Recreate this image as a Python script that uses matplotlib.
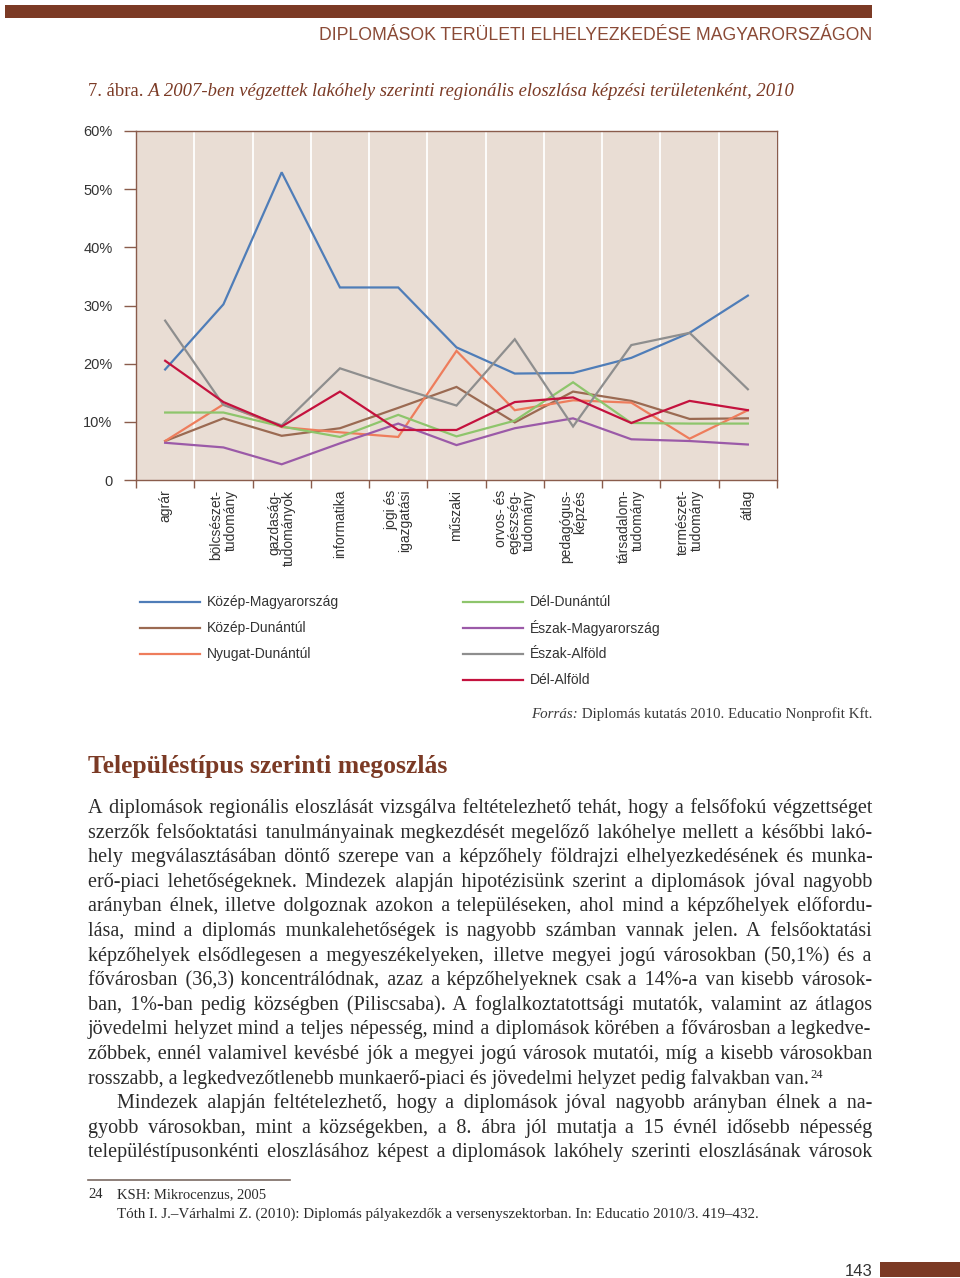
import matplotlib
matplotlib.use("Agg")
import matplotlib.pyplot as plt
from matplotlib.lines import Line2D
from matplotlib.patches import Rectangle
import numpy as np

W, H = 960, 1278
BROWN = "#7b3a25"
SPINE = "#8a5c4c"
TEXT = "#2b2b2b"
HAIR = "\u200a"

# chart data (percent)
categories = ["agrár", "bölcsészet-\ntudomány", "gazdaság-\ntudományok", "informatika",
              "jogi és\nigazgatási", "műszaki", "orvos- és\negészség-\ntudomány",
              "pedagógus-\nképzés", "társadalom-\ntudomány", "természet-\ntudomány", "átlag"]
kozep_magyarorszag = [19.0, 30.2, 52.9, 33.1, 33.1, 22.8, 18.3, 18.4, 21.0, 25.3, 31.7]
kozep_dunantul = [6.7, 10.6, 7.6, 8.9, 12.4, 16.0, 9.9, 15.2, 13.6, 10.5, 10.6]
nyugat_dunantul = [6.7, 13.0, 9.1, 8.2, 7.4, 22.2, 12.0, 13.7, 13.3, 7.1, 12.0]
del_dunantul = [11.6, 11.6, 9.2, 7.4, 11.2, 7.5, 10.2, 16.8, 9.8, 9.7, 9.7]
eszak_magyarorszag = [6.4, 5.6, 2.7, 6.3, 9.7, 6.0, 8.9, 10.6, 7.0, 6.7, 6.1]
eszak_alfold = [27.4, 12.9, 9.4, 19.2, 15.9, 12.8, 24.2, 9.2, 23.2, 25.3, 15.6]
del_alfold = [20.5, 13.4, 9.2, 15.2, 8.6, 8.6, 13.4, 14.2, 9.8, 13.6, 12.0]

region_names = ["Közép-Magyarország", "Közép-Dunántúl", "Nyugat-Dunántúl",
                "Dél-Dunántúl", "Észak-Magyarország", "Észak-Alföld", "Dél-Alföld"]
region_values = [kozep_magyarorszag, kozep_dunantul, nyugat_dunantul,
                 del_dunantul, eszak_magyarorszag, eszak_alfold, del_alfold]
region_colors = ["#4f7db8", "#9b6a52", "#ee7d5c", "#8ec56c", "#9b5aa8", "#8e8e8e", "#c4123e"]

yticks = [0, 10, 20, 30, 40, 50, 60]
ytick_labels = ["0", "10%", "20%", "30%", "40%", "50%", "60%"]

header = "DIPLOMÁSOK TERÜLETI ELHELYEZKEDÉSE MAGYARORSZÁGON"
caption_a = "7. ábra."
caption_b = " A 2007-ben végzettek lakóhely szerinti regionális eloszlása képzési területenként, 2010"
heading = "Településtípus szerinti megoszlás"
body = [
    "A diplomások regionális eloszlását vizsgálva feltételezhető tehát, hogy a felsőfokú végzettséget",
    "szerzők felsőoktatási tanulmányainak megkezdését megelőző lakóhelye mellett a későbbi lakó-",
    "hely megválasztásában döntő szerepe van a képzőhely földrajzi elhelyezkedésének és munka-",
    "erő-piaci lehetőségeknek. Mindezek alapján hipotézisünk szerint a diplomások jóval nagyobb",
    "arányban élnek, illetve dolgoznak azokon a településeken, ahol mind a képzőhelyek előfordu-",
    "lása, mind a diplomás munkalehetőségek is nagyobb számban vannak jelen. A felsőoktatási",
    "képzőhelyek elsődlegesen a megyeszékelyeken, illetve megyei jogú városokban (50,1%) és a",
    "fővárosban (36,3) koncentrálódnak, azaz a képzőhelyeknek csak a 14%-a van kisebb városok-",
    "ban, 1%-ban pedig községben (Piliscsaba). A foglalkoztatottsági mutatók, valamint az átlagos",
    "jövedelmi helyzet mind a teljes népesség, mind a diplomások körében a fővárosban a legkedve-",
    "zőbbek, ennél valamivel kevésbé jók a megyei jogú városok mutatói, míg a kisebb városokban",
    "rosszabb, a legkedvezőtlenebb munkaerő-piaci és jövedelmi helyzet pedig falvakban van.",
    "Mindezek alapján feltételezhető, hogy a diplomások jóval nagyobb arányban élnek a na-",
    "gyobb városokban, mint a községekben, a 8. ábra jól mutatja a 15 évnél idősebb népesség",
    "településtípusonkénti eloszlásához képest a diplomások lakóhely szerinti eloszlásának városok",
]
footnotes = ["KSH: Mikrocenzus, 2005",
             "Tóth I. J.–Várhalmi Z. (2010): Diplomás pályakezdők a versenyszektorban. In: Educatio 2010/3. 419–432."]

SERIF = ["Liberation Serif", "DejaVu Serif"]
SANS = ["Liberation Sans", "DejaVu Sans"]
NARROW = ["Liberation Sans Narrow", "Liberation Sans", "DejaVu Sans"]


def fx(x):
    return x / W


def fy(y):
    return 1 - y / H


fig = plt.figure(figsize=(9.6, 12.78), dpi=100)
fig.patch.set_facecolor("white")
renderer = fig.canvas.get_renderer()


def wpx(t):
    return t.get_window_extent(renderer).width


def measure(s, **kw):
    t = fig.text(0, 0, s, **kw)
    w = wpx(t)
    t.remove()
    return w


def rich(x, y, parts, size, width=None, align="left", **kw):
    def place(sz):
        arts = [fig.text(0, fy(y), s, fontsize=sz, va="baseline", **st, **kw) for s, st in parts]
        return arts, [wpx(a) for a in arts]
    arts, ws = place(size)
    if width:
        sz = size * width / sum(ws)
        for a in arts:
            a.remove()
        arts, ws = place(sz)
    x0 = x if align == "left" else x - sum(ws)
    for a, w in zip(arts, ws):
        a.set_x(fx(x0))
        x0 += w
    return arts


def justify(line, x0, x1, y, **kw):
    # one text per line, word gaps built from hair spaces so the line fills x0..x1
    words = line.split(" ")
    hw = (measure("x" + HAIR * 40 + "x", **kw) - measure("xx", **kw)) / 40
    counts = [1] * (len(words) - 1)
    for _ in range(3):
        s = words[0]
        for c, w in zip(counts, words[1:]):
            s += HAIR * c + w
        cur = measure(s, **kw)
        total = sum(counts) + (x1 - x0 - cur) / hw
        g = total / len(counts)
        counts = [int(round((i + 1) * g)) - int(round(i * g)) for i in range(len(counts))]
    s = words[0]
    for c, w in zip(counts, words[1:]):
        s += HAIR * c + w
    fig.text(fx(x0), fy(y), s, va="baseline", **kw)


# page furniture
fig.add_artist(Rectangle((fx(5), fy(18)), fx(867), 13 / H, transform=fig.transFigure,
                         color=BROWN, lw=0))
fig.add_artist(Rectangle((fx(880), fy(1277)), fx(80), 15 / H, transform=fig.transFigure,
                         color=BROWN, lw=0))
rich(872, 40, [(header, dict(family=NARROW))], 12, width=550, align="right", color="#8a4a36")
rich(88, 96, [(caption_a, dict(family=SERIF)), (caption_b, dict(family=SERIF, style="italic"))],
     13, width=705, color=BROWN)

# chart
ax = fig.add_axes([136 / W, 1 - 480 / H, 641 / W, 349 / H])
ax.set_facecolor("#e9ddd4")
xpos = np.arange(len(categories))
for vals, col in zip(region_values, region_colors):
    ax.plot(xpos, vals, color=col, lw=1.6, solid_joinstyle="miter")
ax.set_xlim(-0.5, len(categories) - 0.5)
ax.set_ylim(0, 60)
ax.set_yticks(yticks)
ax.set_yticklabels(ytick_labels, family=SANS, fontsize=10.5, color="#333333")
ax.set_xticks(xpos)
ax.set_xticklabels(categories, rotation=90, va="top", ha="center", family=SANS,
                   fontsize=10, color="#333333", linespacing=1.0)
for t in ax.get_xticklabels():
    t.set_multialignment("right")
ax.set_xticks(np.arange(-0.5, len(categories)), minor=True)
ax.tick_params(axis="x", which="major", length=0, pad=7)
ax.tick_params(axis="x", which="minor", length=6, color=SPINE, width=1)
ax.tick_params(axis="y", length=9, color=SPINE, width=1, pad=8)
ax.grid(axis="x", which="minor", color="white", lw=1.3)
ax.set_axisbelow(True)
for s in ax.spines.values():
    s.set_color(SPINE)
    s.set_linewidth(1)

# legend, two columns
legend_rows = [602, 628, 654, 680]
for i, (name, col) in enumerate(zip(region_names, region_colors)):
    if i < 3:
        x0, row = 140, legend_rows[i]
    else:
        x0, row = 463, legend_rows[i - 3]
    fig.add_artist(Line2D([fx(x0), fx(x0 + 60)], [fy(row), fy(row)], transform=fig.transFigure,
                          color=col, lw=1.6))
    fig.text(fx(x0 + 67), fy(row), name, family=NARROW, fontsize=10, color="#333333",
             va="center")

rich(872, 718, [("Forrás:", dict(family=SERIF, style="italic")),
                (" Diplomás kutatás 2010. Educatio Nonprofit Kft.", dict(family=SERIF))],
     10.5, width=341, align="right", color="#3a3a3a")

# text below the chart
rich(88, 773, [(heading, dict(family=SERIF, weight="bold"))], 17, width=360, color=BROWN)

# largest size at which every justified line still keeps gaps of ~3.5 px
body_size = 14.5
while body_size > 11:
    ok = True
    for k, line in enumerate(body):
        if k == 11:
            continue
        words = line.split(" ")
        avail = 784 - (29 if k == 12 else 0)
        ww = sum(measure(w, family=SERIF, fontsize=body_size) for w in words)
        if (avail - ww) / (len(words) - 1) < 3.5:
            ok = False
            break
    if ok:
        break
    body_size -= 0.25

for k, line in enumerate(body):
    y = 813 + 24.6 * k
    x0 = 117 if k == 12 else 88
    if k == 11:
        arts = rich(x0, y, [(line, dict(family=SERIF))], body_size, color=TEXT)
        end = x0 + wpx(arts[0])
        fig.text(fx(end + 1), fy(y - 6), "24", family=SERIF, fontsize=body_size * 0.62,
                 color=TEXT, va="baseline")
    else:
        justify(line, x0, 872, y, family=SERIF, fontsize=body_size, color=TEXT)

# footnotes
fig.add_artist(Line2D([fx(88), fx(290)], [fy(1180), fy(1180)], transform=fig.transFigure,
                      color="#7a6a62", lw=1.2))
fig.text(fx(88), fy(1198), "24", family=SERIF, fontsize=10.5, color=TEXT, va="baseline")
rich(117, 1198, [(footnotes[0], dict(family=SERIF))], 10.5, width=150, color=TEXT)
rich(117, 1218, [(footnotes[1], dict(family=SERIF))], 10.5, width=640, color=TEXT)

rich(872, 1276, [("143", dict(family=NARROW))], 12, color="#333333", align="right")

fig.savefig("out.png", dpi=100)
